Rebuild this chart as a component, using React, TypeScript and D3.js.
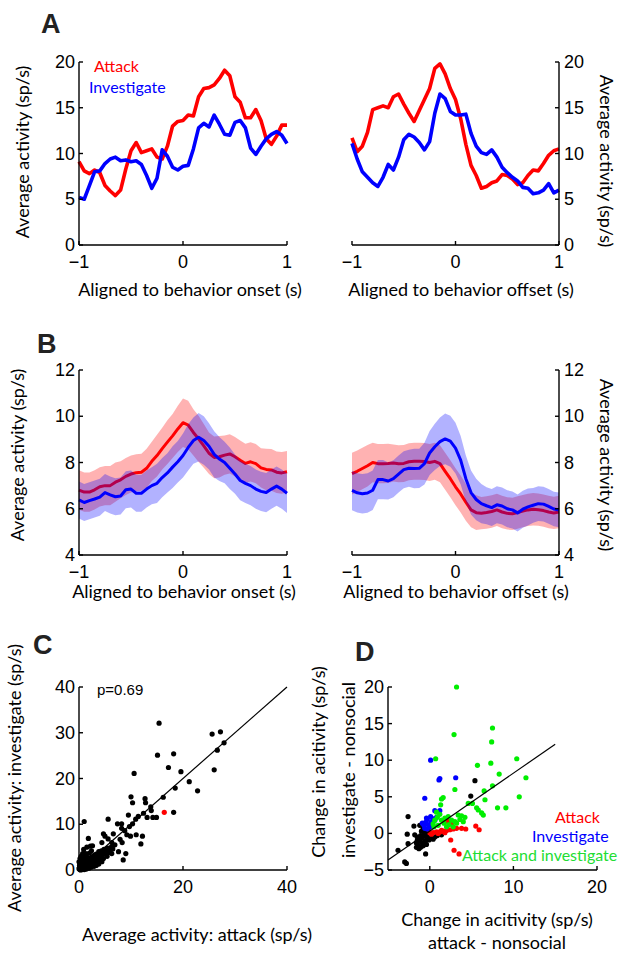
import React from 'react';
import * as d3 from 'd3';

// time bins (s)
const timeBins = [
  -1, -0.95, -0.9, -0.85, -0.8, -0.75, -0.7, -0.65, -0.6, -0.55, -0.5, -0.45, -0.4, -0.35, -0.3, -0.25, -0.2, -0.15, -0.1, -0.05,
  0, 0.05, 0.1, 0.15, 0.2, 0.25, 0.3, 0.35, 0.4, 0.45, 0.5, 0.55, 0.6, 0.65, 0.7, 0.75, 0.8, 0.85, 0.9, 0.95, 1,
];

// Panel A: single example neuron
const aOnsetAttack = [
  9.1, 8.1, 7.8, 8.2, 7.9, 6.5, 5.9, 5.4, 6.0, 8.3, 10.3, 11.2, 10.1, 10.3, 10.5, 9.6, 9.4, 10.8, 13.0, 13.5,
  13.6, 14.2, 14.1, 16.2, 17.1, 17.2, 17.5, 18.2, 19.1, 18.5, 16.2, 15.6, 13.9, 13.9, 14.8, 13.6, 11.6, 11.0, 11.9, 13.1, 13.1,
];
const aOnsetInvestigate = [
  5.2, 5.0, 6.5, 8.0, 8.1, 8.9, 9.4, 9.6, 9.2, 9.3, 9.1, 9.2, 8.8, 7.6, 6.2, 7.3, 10.4, 9.7, 8.5, 8.2,
  8.6, 8.7, 10.5, 12.8, 13.3, 12.9, 14.2, 13.2, 12.1, 12.0, 13.4, 13.6, 12.8, 10.6, 9.9, 10.8, 11.6, 12.1, 12.4, 12.0, 11.1,
];
const aOffsetAttack = [
  11.7, 10.2, 10.8, 12.3, 14.8, 15.0, 15.2, 15.0, 16.2, 16.5, 15.4, 14.4, 13.5, 14.7, 15.9, 17.1, 19.3, 19.8, 18.7, 17.1,
  15.9, 13.8, 11.0, 8.7, 7.6, 6.2, 6.4, 6.8, 7.0, 7.7, 7.6, 7.2, 6.6, 6.8, 7.6, 8.2, 8.1, 8.9, 9.8, 10.3, 10.5,
];
const aOffsetInvestigate = [
  11.1, 9.4, 8.0, 7.4, 6.8, 6.4, 7.4, 8.8, 8.2, 9.6, 11.5, 12.1, 11.8, 11.2, 10.4, 11.3, 14.4, 16.5, 16.0, 14.6,
  14.2, 14.2, 14.3, 12.2, 10.8, 10.1, 9.9, 10.4, 9.6, 8.5, 7.9, 7.4, 7.0, 6.3, 6.2, 5.6, 5.7, 6.0, 6.7, 5.7, 6.0,
];

// Panel B: population mean and s.e.m.
const bOnsetAttackMean = [
  6.81, 6.72, 6.72, 6.82, 6.95, 7.0, 7.0, 7.15, 7.25, 7.4, 7.5, 7.56, 7.58, 7.75, 8.05, 8.3, 8.6, 8.88, 9.15, 9.45,
  9.72, 9.62, 9.3, 9.02, 8.72, 8.4, 8.22, 8.25, 8.32, 8.37, 8.25, 8.1, 7.96, 8.03, 7.95, 7.77, 7.7, 7.68, 7.58, 7.55, 7.6,
];
const bOnsetAttackSem = [
  0.85, 0.85, 0.85, 0.85, 0.85, 0.85, 0.85, 0.85, 0.8, 0.8, 0.8, 0.8, 0.8, 0.85, 0.85, 0.9, 0.9, 0.95, 0.95, 1.0,
  1.05, 1.05, 1.0, 1.0, 0.95, 0.9, 0.9, 0.9, 0.85, 0.85, 0.85, 0.85, 0.85, 0.85, 0.85, 0.85, 0.9, 0.9, 0.9, 0.9, 0.9,
];
const bOnsetInvestigateMean = [
  6.38, 6.27, 6.35, 6.42, 6.5, 6.7, 6.6, 6.52, 6.55, 6.82, 6.85, 6.67, 6.67, 6.85, 7.0, 7.1, 7.35, 7.55, 7.8, 8.03,
  8.3, 8.65, 8.95, 9.09, 8.95, 8.7, 8.35, 8.15, 8.0, 7.75, 7.5, 7.22, 7.1, 7.0, 6.85, 6.75, 6.7, 6.85, 6.98, 6.85, 6.67,
];
const bOnsetInvestigateSem = [
  0.8, 0.8, 0.8, 0.8, 0.8, 0.8, 0.8, 0.8, 0.8, 0.8, 0.8, 0.8, 0.8, 0.8, 0.8, 0.85, 0.85, 0.85, 0.9, 0.9,
  0.95, 1.0, 1.0, 1.05, 1.05, 1.0, 1.0, 0.95, 0.9, 0.9, 0.85, 0.85, 0.85, 0.85, 0.85, 0.85, 0.85, 0.85, 0.85, 0.85, 0.85,
];
const bOffsetAttackMean = [
  7.52, 7.62, 7.74, 7.86, 8.0, 7.95, 7.95, 7.96, 7.98, 7.95, 7.96, 8.03, 8.05, 8.05, 8.04, 8.0, 8.05, 7.95, 7.62, 7.3,
  6.95, 6.64, 6.28, 5.95, 5.83, 5.81, 5.84, 5.88, 5.95, 5.86, 5.8, 5.78, 5.84, 5.9, 5.95, 5.98, 5.96, 5.92, 5.86, 5.82, 5.86,
];
const bOffsetAttackSem = [
  0.9, 0.9, 0.9, 0.9, 0.85, 0.85, 0.85, 0.85, 0.8, 0.8, 0.8, 0.8, 0.8, 0.8, 0.8, 0.8, 0.8, 0.8, 0.8, 0.8,
  0.8, 0.8, 0.8, 0.75, 0.75, 0.7, 0.7, 0.7, 0.7, 0.7, 0.7, 0.7, 0.7, 0.7, 0.7, 0.7, 0.7, 0.7, 0.7, 0.7, 0.7,
];
const bOffsetInvestigateMean = [
  6.79, 6.69, 6.65, 6.68, 6.8, 7.26, 7.26, 7.2, 7.3, 7.5, 7.69, 7.75, 7.74, 7.75, 7.95, 8.41, 8.68, 8.9, 9.02, 8.92,
  8.62, 8.1, 7.3, 6.7, 6.4, 6.22, 6.13, 6.05, 6.17, 6.12, 6.0, 5.95, 5.82, 5.98, 6.08, 6.15, 6.22, 6.2, 6.1, 5.99, 5.95,
];
const bOffsetInvestigateSem = [
  0.85, 0.85, 0.85, 0.85, 0.85, 0.85, 0.85, 0.8, 0.8, 0.8, 0.8, 0.8, 0.85, 0.85, 0.9, 0.95, 1.0, 1.05, 1.1, 1.1,
  1.1, 1.05, 1.0, 0.95, 0.9, 0.85, 0.8, 0.8, 0.8, 0.8, 0.8, 0.8, 0.8, 0.8, 0.8, 0.75, 0.75, 0.75, 0.75, 0.75, 0.75,
];

// Panel C: attack vs investigate rates per neuron
const cPoints = [
  [15.4, 32.1], [25.6, 29.7], [27.2, 30.2], [27.9, 27.8], [26.6, 26.2], [26.0, 21.9], [15.1, 25.1], [18.2, 25.4],
  [17.2, 22.4], [19.6, 21.5], [10.6, 21.1], [21.2, 19.3], [22.8, 17.3], [18.5, 17.9], [16.2, 15.9], [10.0, 16.0],
  [10.3, 14.7], [12.7, 15.6], [12.8, 14.7], [13.8, 13.8], [13.9, 13.0], [18.2, 12.6], [14.9, 11.5], [14.2, 11.5],
  [12.4, 12.4], [13.1, 11.5], [11.4, 11.7], [10.9, 11.1], [9.5, 12.0], [5.6, 11.1], [1.0, 10.6], [10.3, 10.1],
  [7.4, 10.1], [8.2, 10.1], [8.2, 9.1], [8.8, 8.6], [9.7, 9.5], [9.2, 7.7], [9.9, 7.4], [11.0, 7.7], [12.2, 7.4],
  [11.9, 5.7], [7.9, 6.7], [8.3, 6.0], [6.6, 7.9], [4.7, 7.9], [5.0, 7.4], [5.6, 6.8], [6.3, 6.0], [7.6, 4.0],
  [9.0, 3.6], [8.5, 2.2], [1.8, 6.9], [2.6, 5.3], [4.4, 6.0], [6.9, 5.5], [5.6, 4.7], [6.3, 3.6],
  [0.1, 0.2], [0.2, 0.1], [0.3, 0.4], [0.4, 0.2], [0.5, 0.6], [0.5, 0.3], [0.6, 0.9], [0.7, 0.5], [0.8, 0.3],
  [0.9, 1.0], [1.0, 0.7], [1.0, 1.4], [1.1, 0.4], [1.2, 1.1], [1.3, 0.8], [1.4, 1.8], [1.5, 1.2], [1.6, 0.6],
  [1.7, 1.5], [1.8, 2.2], [1.9, 1.0], [2.0, 1.7], [2.1, 2.6], [2.2, 1.3], [2.3, 2.0], [2.4, 0.9], [2.5, 2.9],
  [2.6, 1.6], [2.7, 2.3], [2.8, 1.2], [2.9, 3.2], [3.0, 2.0], [3.1, 2.7], [3.2, 1.5], [3.3, 3.5], [3.4, 2.4],
  [3.5, 1.9], [3.6, 3.0], [3.7, 2.7], [3.8, 4.0], [3.9, 2.2], [4.0, 3.4], [4.2, 2.8], [4.3, 4.2], [4.4, 3.1],
  [4.6, 3.8], [4.7, 2.5], [4.8, 4.5], [5.0, 3.5], [5.2, 4.1], [5.4, 3.0], [5.5, 4.8], [5.7, 3.8], [6.0, 4.3],
  [6.2, 5.0], [6.5, 4.6], [0.2, 0.8], [0.4, 1.2], [0.6, 1.6], [0.8, 2.0], [0.3, 1.7], [0.7, 2.4], [1.2, 2.6],
  [1.5, 2.9], [0.5, 2.2], [1.0, 3.2], [1.3, 3.6], [2.0, 3.7], [2.4, 4.2], [0.9, 4.5], [1.5, 5.0], [2.2, 5.2],
  [0.1, 0.6], [0.2, 1.4], [0.3, 0.0], [0.6, 0.1], [1.0, 0.1], [1.4, 0.2], [1.9, 0.4], [2.3, 0.6], [2.9, 0.8],
  [3.3, 1.0], [3.8, 1.3], [4.4, 1.8], [0.0, 0.3], [0.1, 1.0], [0.0, 1.8], [0.2, 2.5], [0.4, 3.0], [0.7, 3.6],
];
const cHighlight = [[16.4, 12.6]];
const cUnity = [0, 40];

// Panel D: change in activity vs nonsocial
const dNone = [
  [-2.6, 2.3], [-3.8, -2.3], [-2.7, -0.1], [-2.6, -1.4], [-3.0, -3.9], [-2.8, -4.1], [-1.9, 1.0], [-0.5, -2.8],
  [5.4, 7.2], [4.9, 5.1], [1.4, -0.2], [-1.8, -0.2], [-1.5, -0.5], [-1.3, -0.8], [-1.1, -0.3], [-0.9, -0.6],
  [-0.7, 0.0], [-0.5, -0.4], [-0.3, -0.7], [-0.1, -0.9], [-1.6, -1.3], [-1.4, -1.6], [-1.1, -1.9], [-1.6, -1.9],
  [-0.9, -1.3], [-0.6, 0.5], [-0.4, 0.1], [-0.2, -0.2], [0.0, -0.4], [0.2, -0.6], [0.4, -0.8], [-0.2, 0.6],
  [-1.0, 0.3], [-0.8, 0.8], [-1.2, -1.0], [-0.6, -1.1], [-1.3, -2.1], [0.6, -0.5], [-0.4, -1.5], [-1.5, -1.0],
  [-0.8, -1.7], [-1.2, 1.1], [0.9, -0.3],
];
const dAttack = [
  [2.0, 1.9], [2.2, 1.6], [2.6, 1.3], [0.0, 0.1], [0.4, 0.1], [0.8, 0.2], [1.2, 0.2], [1.6, 0.3], [2.0, 0.4],
  [2.4, 0.5], [2.8, 0.6], [3.2, 0.7], [3.8, 0.7], [4.3, 0.6], [2.5, -0.9], [2.9, -2.3], [3.5, -2.8], [5.5, 1.0],
  [5.9, 0.5], [0.2, -0.1], [1.0, 0.0], [1.4, 0.4], [1.8, 0.1],
];
const dInvestigate = [
  [0.1, 10.0], [1.1, 7.3], [1.2, 7.5], [3.1, 7.6], [-0.6, 4.8], [0.6, 3.1], [1.2, 3.1], [0.1, 2.3], [0.4, 2.0],
  [-0.3, 1.9], [-0.9, 1.4], [-0.5, 1.5], [-0.2, 1.2], [0.2, 1.6], [0.6, 1.8], [0.8, 2.2], [-0.6, 0.7], [-0.3, 0.6],
  [-0.7, 1.1], [0.0, 0.9], [0.3, 1.0], [-0.4, 2.1],
];
const dBoth = [
  [3.2, 20.0], [7.5, 14.4], [7.4, 12.5], [2.9, 13.5], [0.7, 10.2], [10.4, 10.2], [7.3, 9.6], [5.7, 9.3], [8.3, 8.1],
  [11.5, 7.6], [7.5, 6.5], [6.5, 5.8], [3.0, 6.0], [10.7, 5.0], [6.6, 4.6], [4.6, 4.1], [5.1, 4.1], [5.6, 3.5],
  [5.8, 3.2], [6.2, 2.8], [6.4, 2.5], [8.1, 3.5], [9.1, 3.5], [1.4, 4.7], [1.6, 4.9], [1.3, 3.9], [0.8, 2.9],
  [0.6, 1.8], [0.4, 1.3], [0.5, 0.9], [1.4, 1.8], [1.8, 2.1], [2.2, 2.3], [2.6, 1.8], [3.0, 1.6], [2.8, 0.9],
  [3.2, 1.4], [3.6, 1.9], [4.0, 1.6], [4.2, 2.2], [3.4, 2.5], [1.0, 1.1], [1.7, 1.4], [2.3, 1.2], [0.9, 2.2],
  [2.0, 0.9], [3.8, 2.4], [1.2, 2.6],
];
const dFit = { slope: 0.79, intercept: 0.33, from: -5, to: 15 };

const RED = '#ff0000';
const BLUE = '#0000ff';
const GREEN = '#00ee00';
const TICK_FONT = "'Liberation Sans', Arial, sans-serif";
const LABEL_FONT = "Lato, 'Open Sans', sans-serif";

const fmt = (d: number) => (d < 0 ? `\u2212${-d}` : `${d}`);

type Lin = d3.ScaleLinear<number, number>;

function Axes({ x, y, xTicks, yTicks, right = false }: { x: Lin; y: Lin; xTicks: number[]; yTicks: number[]; right?: boolean }) {
  const [x0, x1] = x.range();
  const [yb, yt] = y.range();
  const ax = right ? x1 : x0;
  const dir = right ? -1 : 1;
  return (
    <g>
      <g stroke="#000" strokeWidth={1.4} fill="none">
        <line x1={x0} x2={x1} y1={yb} y2={yb} />
        <line x1={ax} x2={ax} y1={yb} y2={yt} />
        {xTicks.map((t) => (
          <line key={'xt' + t} x1={x(t)} x2={x(t)} y1={yb} y2={yb - 4} />
        ))}
        {yTicks.map((t) => (
          <line key={'yt' + t} x1={ax} x2={ax + dir * 4} y1={y(t)} y2={y(t)} />
        ))}
      </g>
      <g fontFamily={TICK_FONT} fontSize={18} fill="#000">
        {xTicks.map((t) => (
          <text key={'xl' + t} x={x(t)} y={yb + 23} textAnchor="middle">
            {fmt(t)}
          </text>
        ))}
        {yTicks.map((t) => (
          <text
            key={'yl' + t}
            x={right ? ax + 5 : ax - 4}
            y={y(t) + 6}
            textAnchor={right ? 'start' : 'end'}
          >
            {fmt(t)}
          </text>
        ))}
      </g>
    </g>
  );
}

function Label({ x, y, rotate = 0, children, size = 18, color = '#000', anchor = 'middle' }: any) {
  return (
    <text
      transform={`translate(${x},${y}) rotate(${rotate})`}
      textAnchor={anchor}
      fontFamily={LABEL_FONT}
      fontSize={size}
      fill={color}
    >
      {children}
    </text>
  );
}

function PanelLetter({ x, y, children }: any) {
  return (
    <text x={x} y={y} fontFamily={TICK_FONT} fontWeight="bold" fontSize={27} fill="#222">
      {children}
    </text>
  );
}

function lineOf(x: Lin, y: Lin, vals: number[]) {
  return d3
    .line<number>()
    .x((_, i) => x(timeBins[i]))
    .y((d) => y(d))(vals) as string;
}

function bandOf(x: Lin, y: Lin, mean: number[], sem: number[]) {
  return d3
    .area<number>()
    .x((_, i) => x(timeBins[i]))
    .y0((d, i) => y(d - sem[i]))
    .y1((d, i) => y(d + sem[i]))(mean) as string;
}

function PanelA() {
  const y = d3.scaleLinear().domain([0, 20]).range([245, 62]);
  const xL = d3.scaleLinear().domain([-1, 1]).range([79, 287]);
  const xR = d3.scaleLinear().domain([-1, 1]).range([352, 559]);
  const yTicks = [0, 5, 10, 15, 20];
  return (
    <g>
      <PanelLetter x={41} y={33}>A</PanelLetter>
      <g fill="none" strokeWidth={3.6} strokeLinejoin="round">
        <path d={lineOf(xL, y, aOnsetAttack)} stroke={RED} />
        <path d={lineOf(xL, y, aOnsetInvestigate)} stroke={BLUE} />
        <path d={lineOf(xR, y, aOffsetAttack)} stroke={RED} />
        <path d={lineOf(xR, y, aOffsetInvestigate)} stroke={BLUE} />
      </g>
      <Axes x={xL} y={y} xTicks={[-1, 0, 1]} yTicks={yTicks} />
      <Axes x={xR} y={y} xTicks={[-1, 0, 1]} yTicks={yTicks} right />
      <Label x={94} y={72} size={16} color={RED} anchor="start">Attack</Label>
      <Label x={89} y={93} size={16} color={BLUE} anchor="start">Investigate</Label>
      <Label x={29} y={152} rotate={-90}>Average activity (sp/s)</Label>
      <Label x={600} y={161} rotate={90}>Average activity (sp/s)</Label>
      <Label x={190} y={296}>Aligned to behavior onset (s)</Label>
      <Label x={461} y={296}>Aligned to behavior offset (s)</Label>
    </g>
  );
}

function PanelB() {
  const y = d3.scaleLinear().domain([4, 12]).range([555, 370]);
  const xL = d3.scaleLinear().domain([-1, 1]).range([79, 287]);
  const xR = d3.scaleLinear().domain([-1, 1]).range([352, 559]);
  const yTicks = [4, 6, 8, 10, 12];
  const series = [
    { x: xL, am: bOnsetAttackMean, as: bOnsetAttackSem, im: bOnsetInvestigateMean, is: bOnsetInvestigateSem },
    { x: xR, am: bOffsetAttackMean, as: bOffsetAttackSem, im: bOffsetInvestigateMean, is: bOffsetInvestigateSem },
  ];
  return (
    <g>
      <PanelLetter x={37} y={353}>B</PanelLetter>
      {series.map((s, k) => (
        <g key={k}>
          <path d={bandOf(s.x, y, s.am, s.as)} fill={RED} fillOpacity={0.3} />
          <path d={lineOf(s.x, y, s.am)} fill="none" stroke={RED} strokeWidth={3} strokeLinejoin="round" />
          <path d={bandOf(s.x, y, s.im, s.is)} fill={BLUE} fillOpacity={0.3} />
          <path d={lineOf(s.x, y, s.im)} fill="none" stroke={BLUE} strokeWidth={3} strokeLinejoin="round" />
        </g>
      ))}
      <Axes x={xL} y={y} xTicks={[-1, 0, 1]} yTicks={yTicks} />
      <Axes x={xR} y={y} xTicks={[-1, 0, 1]} yTicks={yTicks} right />
      <Label x={24} y={455} rotate={-90}>Average activity (sp/s)</Label>
      <Label x={600} y={465} rotate={90}>Average activity (sp/s)</Label>
      <Label x={184} y={598}>Aligned to behavior onset (s)</Label>
      <Label x={456} y={598}>Aligned to behavior offset (s)</Label>
    </g>
  );
}

function PanelC() {
  const x = d3.scaleLinear().domain([0, 40]).range([79, 287]);
  const y = d3.scaleLinear().domain([0, 40]).range([870, 687]);
  return (
    <g>
      <PanelLetter x={33} y={654}>C</PanelLetter>
      {cPoints.map((p, i) => (
        <circle key={i} cx={x(p[0])} cy={y(p[1])} r={2.6} fill="#000" />
      ))}
      {cHighlight.map((p, i) => (
        <circle key={'h' + i} cx={x(p[0])} cy={y(p[1])} r={2.6} fill={RED} />
      ))}
      <line x1={x(cUnity[0])} y1={y(cUnity[0])} x2={x(cUnity[1])} y2={y(cUnity[1])} stroke="#000" strokeWidth={1.2} />
      <Axes x={x} y={y} xTicks={[0, 20, 40]} yTicks={[0, 10, 20, 30, 40]} />
      <text x={97} y={695} fontFamily={TICK_FONT} fontSize={15}>p=0.69</text>
      <Label x={21} y={778} rotate={-90}>Average activity: investigate (sp/s)</Label>
      <Label x={197} y={941}>Average activity: attack (sp/s)</Label>
    </g>
  );
}

function PanelD() {
  const x = d3.scaleLinear().domain([-5, 20]).range([388, 597]);
  const y = d3.scaleLinear().domain([-5, 20]).range([870, 687]);
  const groups = [
    { pts: dNone, color: '#000' },
    { pts: dAttack, color: RED },
    { pts: dInvestigate, color: BLUE },
    { pts: dBoth, color: GREEN },
  ];
  const fitY = (v: number) => dFit.intercept + dFit.slope * v;
  return (
    <g>
      <PanelLetter x={355} y={661}>D</PanelLetter>
      {groups.map((g, k) => (
        <g key={k} fill={g.color}>
          {g.pts.map((p, i) => (
            <circle key={i} cx={x(p[0])} cy={y(p[1])} r={2.6} />
          ))}
        </g>
      ))}
      <line
        x1={x(dFit.from)}
        y1={y(fitY(dFit.from))}
        x2={x(dFit.to)}
        y2={y(fitY(dFit.to))}
        stroke="#000"
        strokeWidth={1.2}
      />
      <Axes x={x} y={y} xTicks={[0, 10, 20]} yTicks={[-5, 0, 5, 10, 15, 20]} />
      <Label x={555} y={823} size={16} color={RED} anchor="start">Attack</Label>
      <Label x={532} y={842} size={16} color={BLUE} anchor="start">Investigate</Label>
      <Label x={462} y={861} size={16} color="#22dd33" anchor="start">Attack and investigate</Label>
      <Label x={325} y={762} rotate={-90}>Change in acitivity (sp/s)</Label>
      <Label x={355} y={770} rotate={-90}>investigate - nonsocial</Label>
      <Label x={497} y={926}>Change in acitivity (sp/s)</Label>
      <Label x={497} y={949}>attack - nonsocial</Label>
    </g>
  );
}

export default function App() {
  return (
    <svg
      width={618}
      height={953}
      viewBox="0 0 618 953"
      style={{ position: 'absolute', left: 0, top: 0, background: '#fff' }}
    >
      <rect width={618} height={953} fill="#fff" />
      <PanelA />
      <PanelB />
      <PanelC />
      <PanelD />
    </svg>
  );
}
